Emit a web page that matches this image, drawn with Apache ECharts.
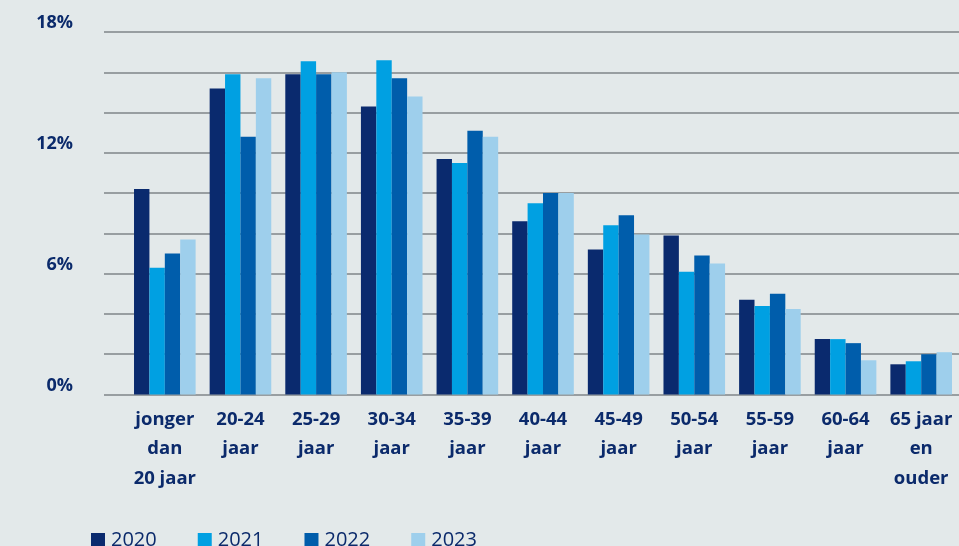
<!DOCTYPE html>
<html>
<head>
<meta charset="utf-8">
<script src="https://cdn.jsdelivr.net/npm/echarts@6/dist/echarts.min.js"></script>
<style>
html,body{margin:0;padding:0;background:#e3e9ea;}
#c{width:959px;height:546px;}
</style>
</head>
<body>
<div id="c"></div>
<script>
var categories = ["jonger\ndan\n20 jaar","20-24\njaar","25-29\njaar","30-34\njaar","35-39\njaar","40-44\njaar","45-49\njaar","50-54\njaar","55-59\njaar","60-64\njaar","65 jaar\nen\nouder"];
var years = ["2020","2021","2022","2023"];
var v2020 = [10.2, 15.2, 15.9, 14.3, 11.7, 8.6, 7.2, 7.9, 4.7, 2.75, 1.5];
var v2021 = [6.3, 15.9, 16.55, 16.6, 11.5, 9.5, 8.4, 6.1, 4.4, 2.75, 1.65];
var v2022 = [7.0, 12.8, 15.9, 15.7, 13.1, 10.0, 8.9, 6.9, 5.0, 2.55, 2.0];
var v2023 = [7.7, 15.7, 16.0, 14.8, 12.8, 10.0, 7.95, 6.5, 4.25, 1.7, 2.1];
var yTicks = [0, 6, 12, 18];
var colors = ["#0a2a6e", "#00a0e2", "#005dab", "#9ecfec"];
var textColor = "#0b2a6b";
var font = "'Open Sans', 'Noto Sans', sans-serif";

var chart = echarts.init(document.getElementById('c'));
var values = [v2020, v2021, v2022, v2023];
var series = years.map(function (y, i) {
  return {
    name: y, type: 'bar', xAxisIndex: 1, yAxisIndex: 1,
    data: values[i], barWidth: 15.4, barGap: '0%',
    itemStyle: { color: colors[i] }
  };
});
chart.setOption({
  backgroundColor: '#e3e9ea',
  animation: false,
  textStyle: { fontFamily: font },
  grid: [
    { left: 104, right: 0, top: 32, bottom: 151.5 },
    { left: 127, right: 0, top: 32, bottom: 151.5 }
  ],
  legend: {
    left: 91, top: 530, padding: 0, itemWidth: 14, itemHeight: 14, itemGap: 41,
    icon: 'rect',
    textStyle: { color: textColor, fontSize: 20, fontFamily: font, padding: [0, 0, 0, 1] },
    data: years
  },
  xAxis: [
    { gridIndex: 0, type: 'value', show: false, min: 0, max: 1 },
    {
      gridIndex: 1, type: 'category', data: categories,
      axisLine: { show: false }, axisTick: { show: false },
      axisLabel: { color: textColor, fontSize: 18.5, fontWeight: 'bold', lineHeight: 29.5, margin: 10, interval: 0 }
    }
  ],
  yAxis: [
    {
      gridIndex: 0, type: 'value', min: 0, max: 18, interval: 2,
      axisLine: { show: false }, axisTick: { show: false },
      splitLine: { show: true, lineStyle: { color: '#7f8589', width: 1.6 } },
      axisLabel: {
        color: textColor, fontSize: 18, fontWeight: 'bold', margin: 31, verticalAlign: 'bottom',
        formatter: function (v) { return yTicks.indexOf(v) >= 0 ? v + '%' : ''; }
      }
    },
    { gridIndex: 1, type: 'value', min: 0, max: 18, interval: 2, show: false, splitLine: { show: false } }
  ],
  series: series
});
</script>
</body>
</html>
